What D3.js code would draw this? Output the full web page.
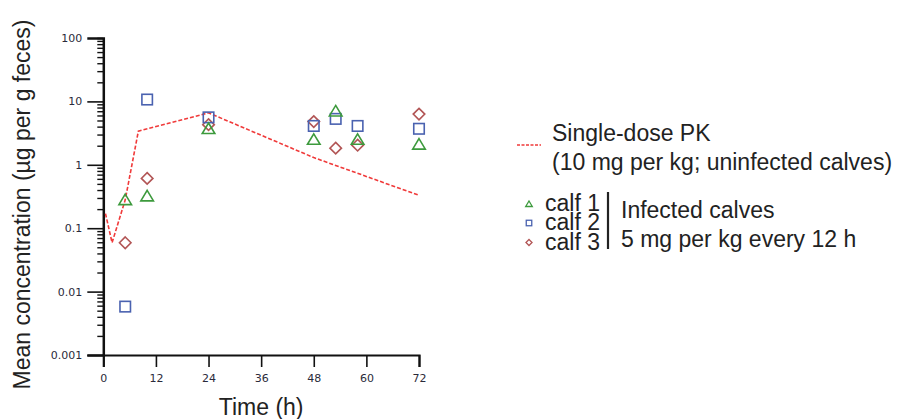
<!DOCTYPE html>
<html>
<head>
<meta charset="utf-8">
<script src="https://cdn.jsdelivr.net/npm/d3@7"></script>
<style>
  body { margin: 0; background: #fff; }
  svg { display: block; }
</style>
</head>
<body>
<div id="chart"></div>
<script>
// time points (h) and concentrations (µg per g feces)
const calfTimes = [5, 10, 24, 48, 53, 58, 72];
const calf1 = [0.28, 0.32, 3.7, 2.5, 7.0, 2.5, 2.1];
const calf2 = [0.0058, 10.7, 5.6, 4.1, 5.3, 4.1, 3.7];
const calf3 = [0.059, 0.61, 4.3, 4.8, 1.83, 2.04, 6.3];

// single-dose PK curve
const pkTimes = [0.5, 2, 5, 8, 24, 48, 72];
const pkValues = [0.17, 0.059, 0.28, 3.4, 6.6, 1.3, 0.33];

const xTicks = [0, 12, 24, 36, 48, 60, 72];
const yMajor = [0.001, 0.01, 0.1, 1, 10, 100];
const yLabels = ["0.001", "0.01", "0.1", "1", "10", "100"];

const width = 910, height = 419;
const sans = "'Liberation Sans', Arial, sans-serif";
const tickFont = "'DejaVu Sans', Verdana, sans-serif";

const x = d3.scaleLinear().domain([0, 72]).range([103.3, 419]);
const y = d3.scaleLog().domain([0.001, 100]).range([355, 38]);

const svg = d3.select("#chart").append("svg")
  .attr("width", width)
  .attr("height", height)
  .attr("viewBox", [0, 0, width, height]);

// minor log ticks
const minors = [];
yMajor.slice(0, -1).forEach(m => {
  for (let k = 2; k <= 9; k++) minors.push(m * k);
});

const yMinorAxis = d3.axisLeft(y).tickValues(minors).tickSize(6).tickFormat("");
svg.append("g")
  .attr("transform", `translate(${x(0)},0)`)
  .call(yMinorAxis)
  .call(g => g.select(".domain").remove())
  .call(g => g.selectAll(".tick line").attr("stroke", "#111").attr("stroke-width", 1.4));

const yAxis = d3.axisLeft(y).tickValues(yMajor).tickSize(16).tickPadding(5)
  .tickFormat((d, i) => yLabels[i]);
svg.append("g")
  .attr("transform", `translate(${x(0)},0)`)
  .call(yAxis)
  .call(g => g.select(".domain").attr("stroke", "#111").attr("stroke-width", 2.5))
  .call(g => g.selectAll(".tick line").attr("stroke", "#111").attr("stroke-width", 1.6))
  .call(g => g.selectAll(".tick").filter(d => d === 100).select("line").attr("x2", -6))
  .call(g => g.selectAll(".tick text")
    .attr("font-family", tickFont).attr("font-size", 11).attr("fill", "#2a2a3a"));

const xAxis = d3.axisBottom(x).tickValues(xTicks).tickSize(12).tickPadding(7);
svg.append("g")
  .attr("transform", `translate(0,${y(0.001)})`)
  .call(xAxis)
  .call(g => g.select(".domain").attr("stroke", "#111").attr("stroke-width", 2.2))
  .call(g => g.selectAll(".tick line").attr("stroke", "#111").attr("stroke-width", 1.6))
  .call(g => g.selectAll(".tick text")
    .attr("font-family", tickFont).attr("font-size", 11).attr("fill", "#2a2a3a"));

// axis titles
svg.append("text")
  .attr("transform", `translate(22,${(y(0.001) + y(100)) / 2 + 8}) rotate(-90)`)
  .attr("text-anchor", "middle")
  .attr("dy", "0.35em")
  .attr("font-family", sans)
  .attr("font-size", 23)
  .attr("fill", "#222")
  .text("Mean concentration (µg per g feces)");

svg.append("text")
  .attr("x", (x(0) + x(72)) / 2)
  .attr("y", 407)
  .attr("text-anchor", "middle")
  .attr("dy", "0.35em")
  .attr("font-family", sans)
  .attr("font-size", 23)
  .attr("fill", "#222")
  .text("Time (h)");

// PK line
const line = d3.line().x((d, i) => x(pkTimes[i])).y(d => y(d));
svg.append("path")
  .datum(pkValues)
  .attr("fill", "none")
  .attr("stroke", "#f03a3a")
  .attr("stroke-width", 1.6)
  .attr("stroke-dasharray", "4,2")
  .attr("d", line);

// markers
const series = [
  { name: "calf 1", values: calf1, color: "#3d9a3d", symbol: "triangle" },
  { name: "calf 2", values: calf2, color: "#4a62b0", symbol: "square" },
  { name: "calf 3", values: calf3, color: "#b25555", symbol: "diamond" }
];

function marker(sel, type, s) {
  if (type === "triangle") {
    sel.append("path").attr("d", `M0,${-s * 0.55}L${s * 0.6},${s * 0.45}L${-s * 0.6},${s * 0.45}Z`);
  } else if (type === "square") {
    sel.append("rect").attr("x", -s / 2).attr("y", -s / 2).attr("width", s).attr("height", s);
  } else {
    sel.append("path").attr("d", `M0,${-s * 0.55}L${s * 0.55},0L0,${s * 0.55}L${-s * 0.55},0Z`);
  }
}

// draw in order 3, 2, 1 so overlaps look like the original
[series[2], series[1], series[0]].forEach(s => {
  const g = svg.append("g")
    .attr("fill", "none")
    .attr("stroke", s.color)
    .attr("stroke-width", 1.6);
  s.values.forEach((v, i) => {
    const m = g.append("g").attr("transform", `translate(${x(calfTimes[i])},${y(v)})`);
    marker(m, s.symbol, 10.5);
  });
});

// legend
const legend = svg.append("g").attr("font-family", sans).attr("fill", "#222");

legend.append("line")
  .attr("x1", 517).attr("x2", 541).attr("y1", 145).attr("y2", 145)
  .attr("stroke", "#f03a3a").attr("stroke-width", 1.4).attr("stroke-dasharray", "3,1.5");

legend.append("text").attr("x", 552).attr("y", 132.5).attr("dy", "0.35em")
  .attr("font-size", 23).text("Single-dose PK");
legend.append("text").attr("x", 552).attr("y", 161.5).attr("dy", "0.35em")
  .attr("font-size", 23).text("(10 mg per kg; uninfected calves)");

const legendY = [203, 222, 241.5];
series.forEach((s, i) => {
  const m = legend.append("g")
    .attr("transform", `translate(529,${legendY[i] + 1})`)
    .attr("fill", "none").attr("stroke", s.color).attr("stroke-width", 1.3);
  marker(m, s.symbol, 5.5);
  legend.append("text").attr("x", 545).attr("y", legendY[i]).attr("dy", "0.35em")
    .attr("font-size", 23).text(s.name);
});

legend.append("line")
  .attr("x1", 608).attr("x2", 608).attr("y1", 192).attr("y2", 249)
  .attr("stroke", "#222").attr("stroke-width", 2.2);

legend.append("text").attr("x", 621).attr("y", 209.5).attr("dy", "0.35em")
  .attr("font-size", 23).text("Infected calves");
legend.append("text").attr("x", 621).attr("y", 238.5).attr("dy", "0.35em")
  .attr("font-size", 23).text("5 mg per kg every 12 h");
</script>
</body>
</html>
